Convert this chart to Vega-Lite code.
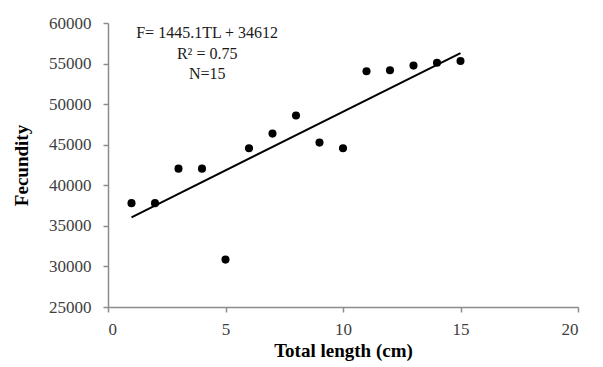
{
  "$schema": "https://vega.github.io/schema/vega-lite/v6.json",
  "width": 470,
  "height": 284,
  "autosize": "none",
  "padding": {"left": 108, "top": 23, "right": 25, "bottom": 60},
  "background": "white",
  "config": {
    "view": {"stroke": null},
    "font": "Liberation Serif",
    "axis": {"labelFont": "Liberation Serif", "titleFont": "Liberation Serif"}
  },
  "datasets": {
    "points": [
      {"TL": 1, "F": 37800}, {"TL": 2, "F": 37800}, {"TL": 3, "F": 42050},
      {"TL": 4, "F": 42050}, {"TL": 5, "F": 30840}, {"TL": 6, "F": 44560},
      {"TL": 7, "F": 46370}, {"TL": 8, "F": 48590}, {"TL": 9, "F": 45260},
      {"TL": 10, "F": 44560}, {"TL": 11, "F": 54050}, {"TL": 12, "F": 54170},
      {"TL": 13, "F": 54750}, {"TL": 14, "F": 55100}, {"TL": 15, "F": 55320}
    ],
    "fit": [{"TL": 1, "F": 36057}, {"TL": 15, "F": 56289}]
  },
  "layer": [
    {
      "data": {"name": "fit"},
      "mark": {"type": "line", "color": "black", "strokeWidth": 2},
      "encoding": {
        "x": {"field": "TL", "type": "quantitative",
          "scale": {"domain": [0, 20], "nice": false},
          "axis": {"values": [0, 5, 10, 15, 20], "format": "d", "title": "Total length (cm)", "grid": false,
            "domainColor": "#8c8c8c", "domainWidth": 1.5, "tickColor": "#8c8c8c", "tickSize": 5, "tickWidth": 1.5,
            "labelFont": "Liberation Serif", "labelFontSize": 17, "labelColor": "#404040", "labelPadding": 9,
            "titleFont": "Liberation Serif", "titleFontSize": 19, "titleFontWeight": "bold", "titleColor": "black", "titlePadding": 4}},
        "y": {"field": "F", "type": "quantitative",
          "scale": {"domain": [25000, 60000], "nice": false, "zero": false},
          "axis": {"values": [25000, 30000, 35000, 40000, 45000, 50000, 55000, 60000], "format": "d", "title": "Fecundity", "grid": false,
            "domainColor": "#8c8c8c", "domainWidth": 1.5, "tickColor": "#8c8c8c", "tickSize": 5, "tickWidth": 1.5,
            "labelFont": "Liberation Serif", "labelFontSize": 17, "labelColor": "#404040", "labelPadding": 12,
            "titleFont": "Liberation Serif", "titleFontSize": 19, "titleFontWeight": "bold", "titleColor": "black", "titlePadding": 17}}
      }
    },
    {
      "data": {"name": "points"},
      "mark": {"type": "point", "filled": true, "color": "black", "size": 65, "opacity": 1},
      "encoding": {
        "x": {"field": "TL", "type": "quantitative"},
        "y": {"field": "F", "type": "quantitative"}
      }
    },
    {
      "data": {"values": [{"label": ["F= 1445.1TL + 34612", "R² = 0.75", "N=15"]}]},
      "mark": {"type": "text", "align": "center", "baseline": "top", "font": "Liberation Serif", "fontSize": 16, "lineHeight": 20.5, "color": "#1a1a1a"},
      "encoding": {
        "x": {"datum": 4.22, "type": "quantitative"},
        "y": {"datum": 59750, "type": "quantitative"},
        "text": {"field": "label"}
      }
    }
  ]
}
